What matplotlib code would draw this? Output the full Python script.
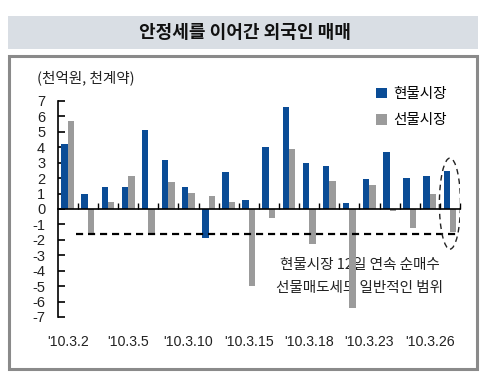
import matplotlib
matplotlib.use("Agg")
import matplotlib.pyplot as plt
from matplotlib.patches import Rectangle, Ellipse
import numpy as np

plt.rcParams['font.family'] = ['Noto Sans CJK KR', 'DejaVu Sans']

# ---- data ----
title = "안정세를 이어간 외국인 매매"
unit_label = "(천억원, 천계약)"
series_names = ["현물시장", "선물시장"]
spot = [4.2, 1.0, 1.4, 1.4, 5.1, 3.2, 1.45, -1.9, 2.4, 0.6,
        4.0, 6.6, 2.95, 2.8, 0.4, 1.95, 3.7, 2.0, 2.15, 2.45]
futures = [5.7, -1.7, 0.45, 2.15, -1.7, 1.75, 1.05, 0.85, 0.45, -5.0,
           -0.6, 3.9, -2.3, 1.8, -6.4, 1.55, -0.15, -1.2, 0.95, -1.5]
xtick_labels = ["'10.3.2", "'10.3.5", "'10.3.10", "'10.3.15",
                "'10.3.18", "'10.3.23", "'10.3.26"]
xtick_idx = [0, 3, 6, 9, 12, 15, 18]
yticks = list(range(-7, 8))
ref_level = -1.6
note_lines = ["현물시장 12일 연속 순매수", "선물매도세도 일반적인 범위"]

blue = "#0A4C96"
gray = "#9B9B9B"
num_font = "Liberation Sans"

W, H = 501, 372
fig = plt.figure(figsize=(W / 100, H / 100), dpi=100)

def fx(px):
    return px / W

def fy(py):
    return 1 - py / H

# title band
fig.patches.append(Rectangle((fx(8), fy(49)), fx(478) - fx(8), fy(16) - fy(49),
                             transform=fig.transFigure, facecolor="#D9DEE4",
                             edgecolor="none", zorder=0))
fig.text(fx(245), fy(33), title, ha="center", va="center",
         fontsize=13, fontweight="bold", color="#111111")

# frame
fig.patches.append(Rectangle((fx(9), fy(369)), fx(477) - fx(9), fy(56) - fy(369),
                             transform=fig.transFigure, facecolor="none",
                             edgecolor="#8A8A8A", linewidth=2.2, zorder=0))

ax = fig.add_axes([fx(57.7), fy(317), fx(460) - fx(57.7), fy(101) - fy(317)])
ax.patch.set_alpha(0)

n = len(spot)
x = np.arange(n)
bw = 0.32
ax.bar(x - bw / 2, spot, width=bw, color=blue, label=series_names[0], zorder=2)
ax.bar(x + bw / 2, futures, width=bw, color=gray, label=series_names[1], zorder=2)

ax.set_xlim(-0.5, n - 0.5)
ax.set_ylim(-7, 7)

for s in ["top", "right"]:
    ax.spines[s].set_visible(False)
ax.spines["bottom"].set_position(("data", 0))
ax.spines["bottom"].set_zorder(4)
ax.spines["left"].set_linewidth(1.2)
ax.spines["bottom"].set_linewidth(1.2)

ax.set_yticks(yticks)
ax.set_yticklabels([str(v) for v in yticks])
ax.tick_params(axis="y", direction="in", length=5, width=1.2, pad=9,
               labelsize=10.5, labelfontfamily=num_font, labelcolor="#222222")
ax.set_xticks(np.arange(0.5, n, 1.0))
ax.set_xticklabels([])
ax.tick_params(axis="x", direction="in", length=4, width=1.0)

for i, lab in zip(xtick_idx, xtick_labels):
    ax.text(i, -0.114, lab, transform=ax.get_xaxis_transform(),
            ha="center", va="center", fontsize=10.2,
            family=num_font, color="#222222")

# reference dashed line
ax.plot([0.4, n - 0.5], [ref_level, ref_level], color="black", lw=1.6,
        dashes=(3.2, 2.2), zorder=3)

# dashed ellipse
ax.add_patch(Ellipse((n - 1, 0.35), width=1.05, height=5.9, fill=False,
                     edgecolor="#222222", lw=1.0, linestyle=(0, (4, 3)), zorder=3))

# note text
ax.text(14.5, -3.6, note_lines[0], ha="center", va="center", fontsize=10.5,
        color="#222222", zorder=1)
ax.text(14.5, -5.15, note_lines[1], ha="center", va="center", fontsize=10.5,
        color="#222222", zorder=1)

fig.text(fx(37), fy(78), unit_label, ha="left", va="center", fontsize=10.5,
         color="#222222")

ax.legend(loc="upper left", bbox_to_anchor=(fx(376), fy(87)),
          bbox_transform=fig.transFigure, frameon=False, fontsize=10.5,
          handlelength=0.75, handleheight=0.75, handletextpad=0.4,
          labelspacing=0.85, borderpad=0, borderaxespad=0)

fig.savefig("out.png", dpi=100)
